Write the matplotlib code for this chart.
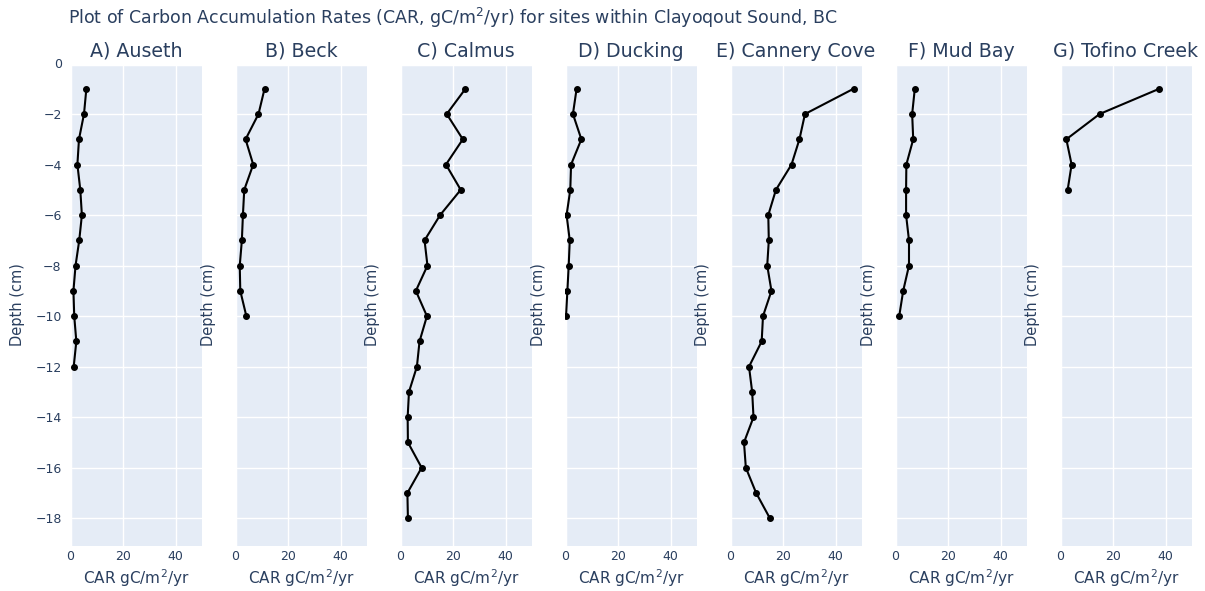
import matplotlib.pyplot as plt

# Site names and CAR values (gC/m2/yr), one value per cm of depth
sites = ["A) Auseth", "B) Beck", "C) Calmus", "D) Ducking",
         "E) Cannery Cove", "F) Mud Bay", "G) Tofino Creek"]

auseth = [6.2, 5.3, 3.4, 2.8, 3.9, 4.5, 3.5, 2.1, 1.3, 1.6, 2.4, 1.4]
beck = [11.2, 8.9, 4.0, 6.9, 3.5, 3.0, 2.6, 1.8, 2.0, 4.3]
calmus = [24.8, 17.7, 23.8, 17.4, 23.0, 15.2, 9.3, 10.4, 6.0, 10.2,
          7.4, 6.4, 3.4, 2.9, 3.0, 8.2, 2.8, 3.0]
ducking = [4.4, 3.0, 6.2, 2.3, 2.0, 0.6, 1.8, 1.4, 0.9, 0.4]
cannery = [46.8, 28.4, 26.3, 23.3, 17.4, 14.5, 14.7, 14.1, 15.7, 12.5,
           12.0, 7.2, 8.4, 8.9, 5.3, 6.0, 9.9, 15.1]
mudbay = [7.5, 6.5, 6.9, 4.3, 4.2, 4.2, 5.3, 5.3, 3.1, 1.6]
tofino = [37.6, 15.0, 2.4, 4.4, 2.9]

car = [auseth, beck, calmus, ducking, cannery, mudbay, tofino]

y_ticks = list(range(0, -19, -2))
x_ticks = [0, 20, 40]

# plotly-like colours
bg = "#E5ECF6"
txt = "#2a3f5f"

W, H = 1205, 591
fig = plt.figure(figsize=(W / 100, H / 100), dpi=100)

left0, width, step = 70, 132, 165
top, bottom = 63.5, 546

for i, (name, vals) in enumerate(zip(sites, car)):
    left = left0 + i * step
    ax = fig.add_axes([left / W, 1 - bottom / H, width / W, (bottom - top) / H])
    ax.set_facecolor(bg)
    depth = [-(k + 1) for k in range(len(vals))]
    ax.plot(vals, depth, color="black", lw=1.5, marker="o", ms=4, zorder=3)

    ax.set_xlim(0, 50)
    ax.set_ylim(-19.1, 0)
    ax.set_xticks(x_ticks)
    ax.set_yticks(y_ticks)
    ax.grid(color="white", lw=1)
    ax.set_axisbelow(True)
    ax.axhline(0, color="white", lw=2.5, zorder=2)
    ax.axvline(0, color="white", lw=2.5, zorder=2)
    for s in ax.spines.values():
        s.set_visible(False)
    ax.tick_params(length=0, colors=txt, labelsize=9)
    ax.tick_params(axis="x", pad=3)
    ax.tick_params(axis="y", pad=6)
    if i > 0:
        ax.tick_params(labelleft=False)

    ax.set_title(name, color=txt, fontsize=13.7, pad=5)
    ax.set_xlabel(r"CAR gC/m$^2$/yr", color=txt, fontsize=11, labelpad=3)

    # y label sits left of each panel
    lx = 18 if i == 0 else left - 27
    fig.text(lx / W, 1 - ((top + bottom) / 2) / H, "Depth (cm)", rotation=90,
             ha="center", va="center", color=txt, fontsize=10.5)

fig.text(68 / W, 1 - 18 / H,
         r"Plot of Carbon Accumulation Rates (CAR, gC/m$^2$/yr) for sites within Clayoqout Sound, BC",
         ha="left", va="center", color=txt, fontsize=12.5)

fig.savefig("out.png", dpi=100)
